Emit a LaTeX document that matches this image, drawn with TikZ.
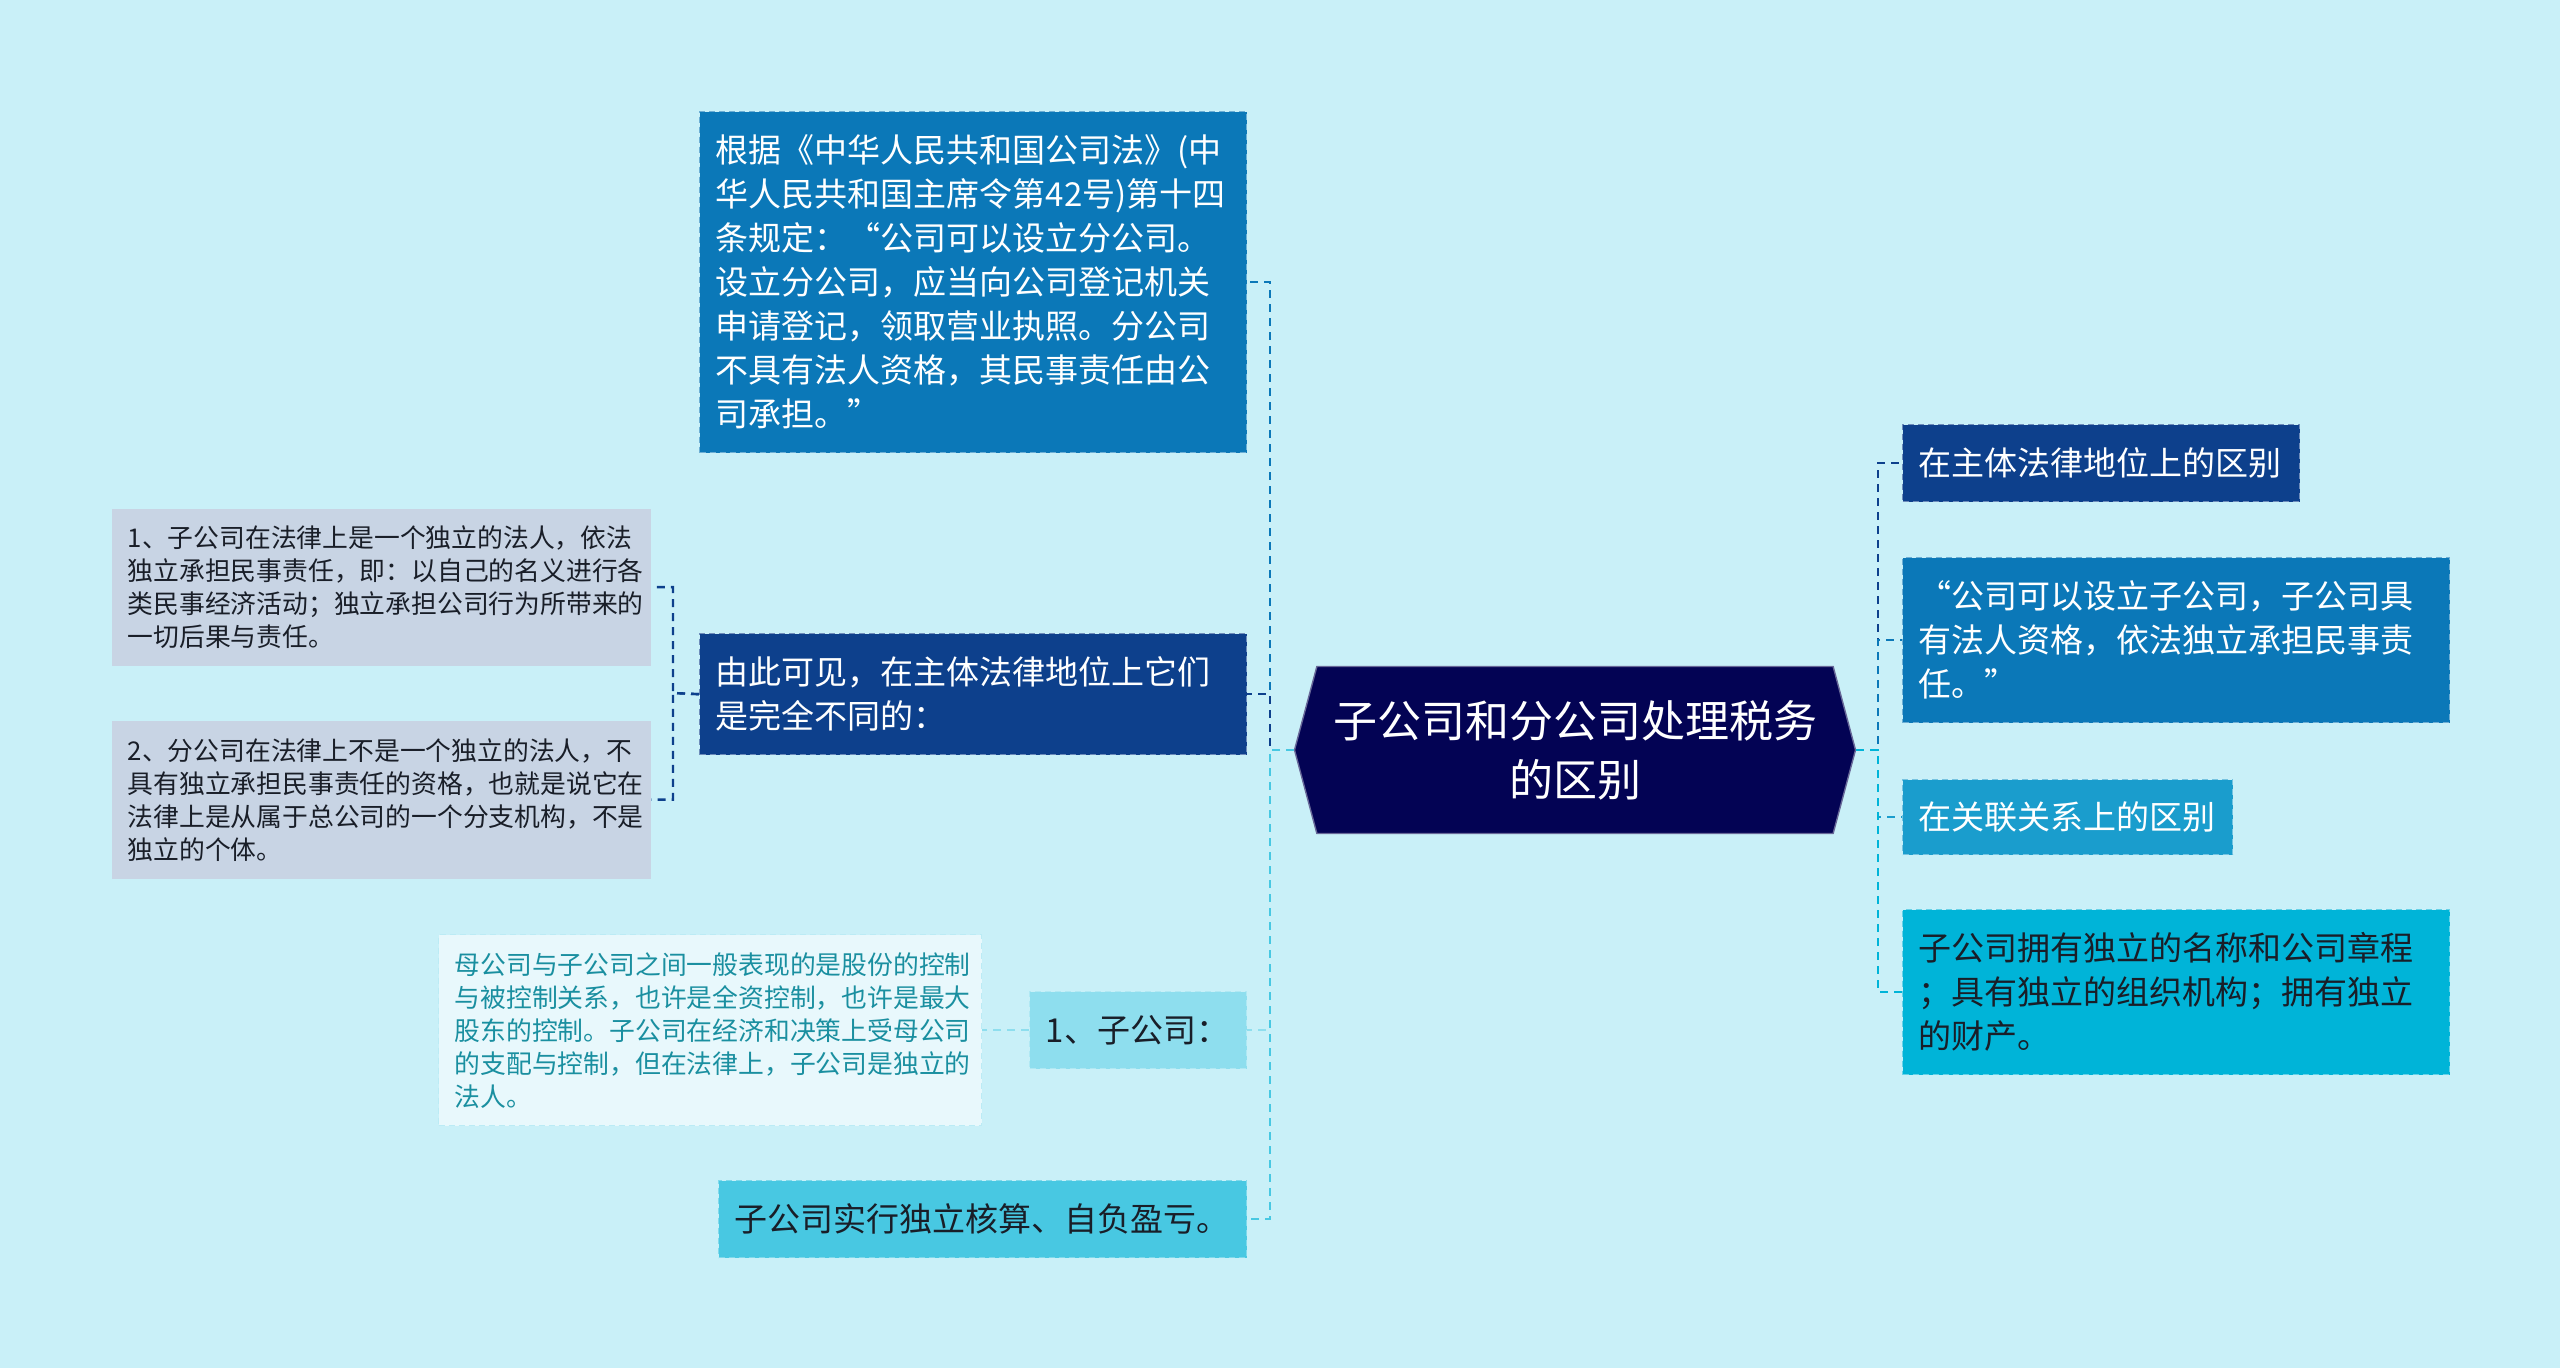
\documentclass[tikz,border=0pt]{standalone}
\usepackage{fontspec}
\setmainfont{Noto Sans CJK SC}
\usetikzlibrary{shapes.symbols}
\definecolor{bgcyan}{RGB}{201,240,248}
\definecolor{rootnavy}{RGB}{3,3,84}
\definecolor{darkblue}{RGB}{13,64,140}
\definecolor{midblue}{RGB}{11,120,184}
\definecolor{skyblue}{RGB}{26,157,205}
\definecolor{cyanbox}{RGB}{0,180,216}
\definecolor{lightcyan}{RGB}{142,222,238}
\definecolor{brightcyan}{RGB}{72,200,226}
\definecolor{paleblue}{RGB}{232,248,252}
\definecolor{greyblue}{RGB}{200,212,228}
\definecolor{tealtext}{RGB}{26,143,160}
\definecolor{darktext}{RGB}{25,30,40}

\begin{document}
\begin{tikzpicture}[x=1pt,y=-1pt,
  box/.style={anchor=north west, inner xsep=8pt, inner ysep=0pt, align=left,
    font=\fontsize{16.5}{22}\selectfont, dashed, dash pattern=on 3pt off 2pt, line width=0.7pt},
  smallbox/.style={box, font=\fontsize{12.9}{16.5}\selectfont},
  link/.style={line width=1.2pt, dash pattern=on 4pt off 3pt},
]
\fill[bgcyan] (0,0) rectangle (1280,684);
\useasboundingbox (0,0) rectangle (1280,684);

\node[signal, signal to=west and east, signal pointer angle=150, fill=rootnavy, draw=rootnavy!60!white,
  line width=0.7pt, text=white, align=center, font=\fontsize{22}{29.5}\selectfont,
  minimum width=280.5pt, minimum height=83.5pt] (root) at (787.5,375)
  {子公司和分公司处理税务\\的区别};

\node[box, fill=midblue, draw=midblue!60!white, text=white, text width=257.5pt, minimum height=170.5pt]
  (law) at (349.5,55.5) {根据《中华人民共和国公司法》(中\\华人民共和国主席令第42号)第十四\\条规定：“公司可以设立分公司。\\设立分公司，应当向公司登记机关\\申请登记，领取营业执照。分公司\\不具有法人资格，其民事责任由公\\司承担。”};
\node[box, fill=darkblue, draw=darkblue!60!white, text=white, text width=257.5pt, minimum height=60.5pt]
  (differ) at (349.5,316.5) {由此可见，在主体法律地位上它们\\是完全不同的：};
\node[smallbox, fill=greyblue, draw=none, text=darktext, text width=253.5pt, minimum height=78.5pt]
  (subpt) at (55.5,254) {1、子公司在法律上是一个独立的法人，依法\\独立承担民事责任，即：以自己的名义进行各\\类民事经济活动；独立承担公司行为所带来的\\一切后果与责任。};
\node[smallbox, fill=greyblue, draw=none, text=darktext, text width=253.5pt, minimum height=79pt]
  (branchpt) at (55.5,360) {2、分公司在法律上不是一个独立的法人，不\\具有独立承担民事责任的资格，也就是说它在\\法律上是从属于总公司的一个分支机构，不是\\独立的个体。};
\node[box, fill=lightcyan, draw=lightcyan!70!white, text=darktext, text width=92.5pt, minimum height=38.5pt]
  (sub) at (514.5,495.5) {1、子公司：};
\node[smallbox, fill=paleblue, draw=lightcyan!60!white, text=tealtext, text width=255.5pt, minimum height=95.5pt]
  (control) at (219,467) {母公司与子公司之间一般表现的是股份的控制\\与被控制关系，也许是全资控制，也许是最大\\股东的控制。子公司在经济和决策上受母公司\\的支配与控制，但在法律上，子公司是独立的\\法人。};
\node[box, fill=brightcyan, draw=brightcyan!70!white, text=darktext, text width=248pt, minimum height=38.5pt]
  (account) at (359,590) {子公司实行独立核算、自负盈亏。};

\node[box, fill=darkblue, draw=darkblue!60!white, text=white, text width=182.5pt, minimum height=38.5pt]
  (status) at (951,212) {在主体法律地位上的区别};
\node[box, fill=midblue, draw=midblue!60!white, text=white, text width=257.5pt, minimum height=82.5pt]
  (quote) at (951,278.5) {“公司可以设立子公司，子公司具\\有法人资格，依法独立承担民事责\\任。”};
\node[box, fill=skyblue, draw=skyblue!60!white, text=white, text width=149pt, minimum height=37.5pt]
  (relation) at (951,389.5) {在关联关系上的区别};
\node[box, fill=cyanbox, draw=cyanbox!60!white, text=darktext, text width=257.5pt, minimum height=82.5pt]
  (own) at (951,454.5) {子公司拥有独立的名称和公司章程\\；具有独立的组织机构；拥有独立\\的财产。};

\coordinate (lhub) at (635,375);
\coordinate (rhub) at (939,375);
\coordinate (ghub) at (336.5,346.5);
\draw[link, midblue] (root.west) -- (lhub) |- (law.east);
\draw[link, darkblue] (root.west) -- (lhub) |- (differ.east);
\draw[link, lightcyan] (root.west) -- (lhub) |- (sub.east);
\draw[link, brightcyan] (root.west) -- (lhub) |- (account.east);
\draw[link, darkblue] (differ.west) -- (ghub) |- (subpt.east);
\draw[link, darkblue] (differ.west) -- (ghub) |- (branchpt.east);
\draw[link, lightcyan] (sub.west) -- (control.east);
\draw[link, darkblue] (root.east) -- (rhub) |- (status.west);
\draw[link, midblue] (root.east) -- (rhub) |- (quote.west);
\draw[link, skyblue] (root.east) -- (rhub) |- (relation.west);
\draw[link, cyanbox] (root.east) -- (rhub) |- (own.west);
\end{tikzpicture}
\end{document}
